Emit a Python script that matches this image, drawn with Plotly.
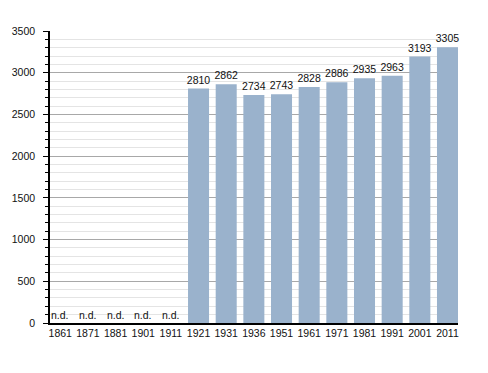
import plotly.graph_objects as go

years = ["1861", "1871", "1881", "1901", "1911", "1921", "1931", "1936",
         "1951", "1961", "1971", "1981", "1991", "2001", "2011"]
population = [None, None, None, None, None, 2810, 2862, 2734,
              2743, 2828, 2886, 2935, 2963, 3193, 3305]
y_ticks = [0, 500, 1000, 1500, 2000, 2500, 3000, 3500]

font = "Liberation Sans, Arial, sans-serif"

fig = go.Figure()
fig.add_trace(go.Bar(
    x=years,
    y=[v if v is not None else 0 for v in population],
    text=[str(v) if v is not None else "" for v in population],
    textposition="outside",
    constraintext="none",
    textfont=dict(size=10.5, color="#111", family=font),
    cliponaxis=False,
    marker=dict(color="rgb(154,178,204)", line=dict(width=0)),
    hoverinfo="skip",
))

for i, v in enumerate(population):
    if v is None:
        fig.add_annotation(x=i, y=0, text="n.d.", showarrow=False,
                           xref="x", yref="y",
                           yanchor="bottom", yshift=0,
                           font=dict(size=10.5, color="#111", family=font))

fig.update_layout(
    width=488, height=373,
    margin=dict(l=42, r=38, t=23, b=58),
    paper_bgcolor="white", plot_bgcolor="white",
    bargap=0.24,
    showlegend=False,
    font=dict(family=font, size=10.5, color="#111"),
)
fig.update_xaxes(
    type="category",
    range=[-0.37, 14.38],
    automargin=False,
    showgrid=False,
    showline=True, linecolor="black", linewidth=1.5,
    ticks="", tickfont=dict(size=10.5, color="#111"),
    fixedrange=True,
)
fig.update_yaxes(
    range=[0, 3500],
    tickvals=y_ticks,
    automargin=False,
    showgrid=True, gridcolor="#a8a8a8", gridwidth=1,
    showline=True, linecolor="black", linewidth=1.5,
    ticks="outside", ticklen=5, tickcolor="black", tickwidth=1,
    ticklabelstandoff=6,
    tickfont=dict(size=10.5, color="#111"),
    minor=dict(dtick=100, showgrid=True, gridcolor="#e4e4e4", gridwidth=1,
               ticks="outside", ticklen=3, tickcolor="black", tickwidth=1),
    zeroline=False,
    fixedrange=True,
)

fig.write_html("out.html")
